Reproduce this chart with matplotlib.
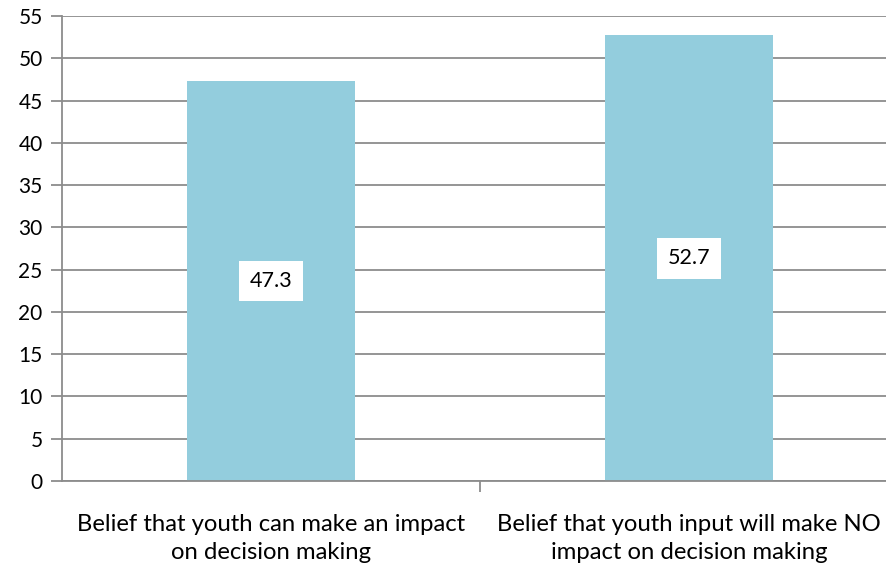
import matplotlib.pyplot as plt

categories = ["Belief that youth can make an impact\non decision making",
              "Belief that youth input will make NO\nimpact on decision making"]
values = [47.3, 52.7]
yticks = list(range(0, 56, 5))

plt.rcParams['font.family'] = ['Lato', 'DejaVu Sans']

fig = plt.figure(figsize=(8.87, 5.69), dpi=100)
ax = fig.add_axes([62 / 887, 1 - 481 / 569, 836 / 887, 465 / 569])

pos = range(len(values))
ax.bar(pos, values, width=0.4, color='#93CDDD', zorder=2)
for x, v in zip(pos, values):
    ax.text(x, v / 2, f"{v}", ha='center', va='center', fontsize=15.5, color='black',
            bbox=dict(facecolor='white', edgecolor='none', pad=7.5), zorder=3)

ax.set_xlim(-0.5, 1.5)
ax.set_ylim(0, 55)
ax.set_yticks(yticks)
ax.yaxis.grid(True, color='#8C8C8C', linewidth=1.3, zorder=0)
ax.tick_params(axis='y', length=8, width=1.3, color='#8C8C8C', labelsize=15, pad=6)
ax.set_xticks([0.5])
ax.set_xticklabels([''])
ax.tick_params(axis='x', length=8, width=1.3, color='#8C8C8C')
for x, lab in zip(pos, categories):
    ax.text(x, -3.9, lab, ha='center', va='top', fontsize=17.2, linespacing=1.42,
            transform=ax.transData)

for s in ['top', 'right']:
    ax.spines[s].set_visible(False)
for s in ['left', 'bottom']:
    ax.spines[s].set_color('#8C8C8C')
    ax.spines[s].set_linewidth(1.3)

fig.savefig('out.png', dpi=100)
